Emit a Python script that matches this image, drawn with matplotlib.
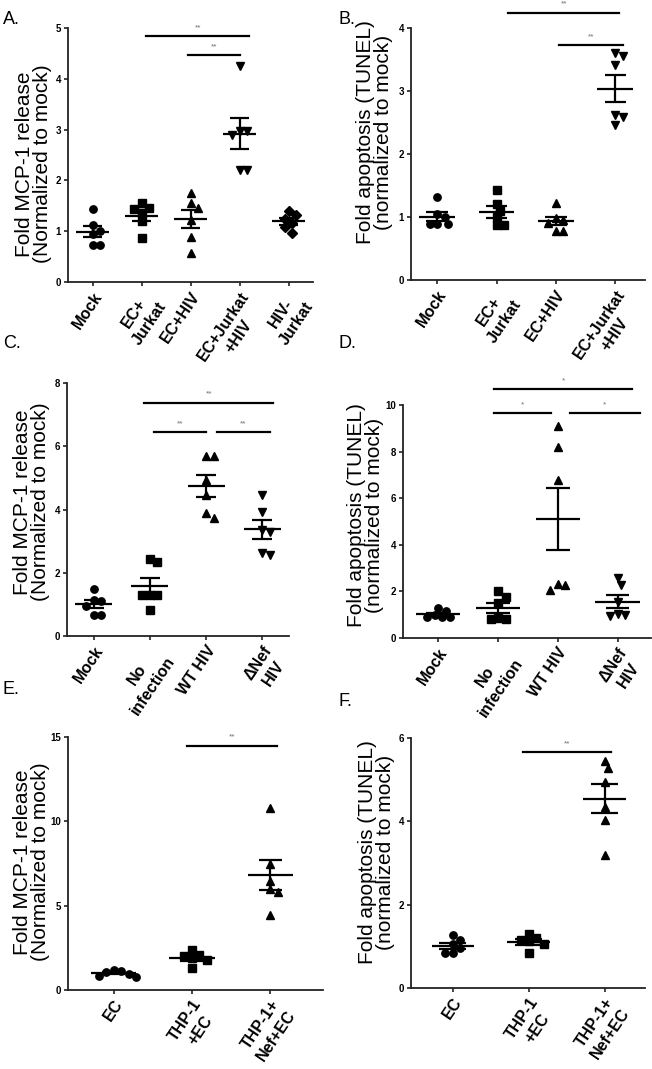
import numpy as np
import matplotlib
matplotlib.use("Agg")
import matplotlib.pyplot as plt

plt.rcParams['font.family'] = ['Liberation Sans', 'DejaVu Sans']

# ---------------- data ----------------
A_cats = ["Mock", "EC+\nJurkat", "EC+HIV", "EC+Jurkat\n+HIV", "HIV-\nJurkat"]
A_mock = [1.43, 1.12, 1.00, 0.95, 0.72, 0.72]
A_ecj = [1.55, 1.45, 1.43, 1.35, 1.20, 0.87]
A_echiv = [1.76, 1.55, 1.45, 1.22, 0.89, 0.58]
A_ecjhiv = [4.26, 2.97, 2.97, 2.90, 2.20, 2.20]
A_hivj = [1.39, 1.32, 1.25, 1.16, 1.08, 0.97]

B_cats = ["Mock", "EC+\nJurkat", "EC+HIV", "EC+Jurkat\n+HIV"]
B_mock = [1.31, 1.05, 1.00, 0.89, 0.89, 0.89]
B_ecj = [1.43, 1.21, 1.10, 1.00, 0.87, 0.87]
B_echiv = [1.23, 0.98, 0.95, 0.90, 0.78, 0.78]
B_ecjhiv = [3.60, 3.55, 3.42, 2.62, 2.58, 2.46]

C_cats = ["Mock", "No\ninfection", "WT HIV", "ΔNef\nHIV"]
C_mock = [1.50, 1.14, 1.12, 0.95, 0.66, 0.66]
C_noinf = [2.42, 2.35, 1.30, 1.30, 1.30, 0.82]
C_wt = [5.70, 5.70, 4.93, 4.45, 3.90, 3.74]
C_dnef = [4.45, 3.93, 3.35, 3.30, 2.63, 2.56]

D_cats = ["Mock", "No\ninfection", "WT HIV", "ΔNef\nHIV"]
D_mock = [1.28, 1.15, 1.00, 0.90, 0.88, 0.88]
D_noinf = [2.00, 1.76, 1.50, 0.85, 0.80, 0.80]
D_wt = [9.11, 8.20, 6.76, 2.31, 2.26, 2.07]
D_dnef = [2.57, 2.27, 1.55, 1.05, 1.00, 0.95]

E_cats = ["EC", "THP-1\n+EC", "THP-1+\nNef+EC"]
E_ec = [1.20, 1.10, 1.05, 0.95, 0.85, 0.80]
E_thp = [2.35, 2.05, 2.00, 1.90, 1.75, 1.30]
E_thpnef = [10.80, 7.46, 6.45, 6.00, 5.82, 4.44]

F_cats = ["EC", "THP-1\n+EC", "THP-1+\nNef+EC"]
F_ec = [1.27, 1.15, 1.05, 0.95, 0.84, 0.84]
F_thp = [1.30, 1.20, 1.15, 1.12, 1.05, 0.83]
F_thpnef = [5.44, 5.28, 4.95, 4.34, 4.03, 3.19]

ylab_mcp = "Fold MCP-1 release\n(Normalized to mock)"
ylab_tun = "Fold apoptosis (TUNEL)\n(normalized to mock)"

W, H = 652, 1069


# ---------------- helpers ----------------
def swarm(vals, px_x, px_y, diam=7.5):
    """Deterministic beeswarm: offsets (in category units) so markers don't overlap."""
    v = np.asarray(vals, float)
    order = np.argsort(-v)
    offs = np.zeros(len(v))
    placed = []
    step = diam * 0.5
    cands = [0.0]
    for j in range(1, 12):
        cands += [j * step, -j * step]
    for k in order:
        yk = v[k] * px_y
        for c in cands:
            ok = True
            for (xp, yp) in placed:
                if (c - xp) ** 2 + (yk - yp) ** 2 < diam ** 2 * 0.95:
                    ok = False
                    break
            if ok:
                placed.append((c, yk))
                offs[k] = c / px_x
                break
    return offs


def panel(box, letter, letter_xy, cats, groups, markers, ylim, yticks, xlim,
          ylabel, lab_xy, sigs, widths, sig_star_size=6):
    x0, x1, ytop, ybot = box
    rect = [x0 / W, 1 - ybot / H, (x1 - x0) / W, (ybot - ytop) / H]
    ax = fig.add_axes(rect)
    px_x = (x1 - x0) / (xlim[1] - xlim[0])
    px_y = (ybot - ytop) / (ylim[1] - ylim[0])
    mw, cw = widths
    yr = ylim[1] - ylim[0]
    for i, (v, m) in enumerate(zip(groups, markers)):
        offs = swarm(v, px_x, px_y)
        ms = 4.6 if m == 'D' else 5.3
        ax.plot(i + offs, v, ls='none', marker=m, color='black', ms=ms, zorder=3)
        mean = np.mean(v)
        sem = np.std(v, ddof=1) / np.sqrt(len(v))
        ax.hlines(mean, i - mw, i + mw, color='black', lw=1.6, zorder=4)
        ax.hlines([mean - sem, mean + sem], i - cw, i + cw, color='black', lw=1.6, zorder=4)
        ax.vlines(i, mean - sem, mean + sem, color='black', lw=1.6, zorder=4)
    ax.set_xlim(*xlim)
    ax.set_ylim(*ylim)
    ax.set_yticks(yticks)
    ax.set_yticklabels([str(t) for t in yticks], fontsize=7, fontweight='bold')
    ax.set_xticks(range(len(cats)))
    ax.set_xticklabels(cats, fontsize=11.5, fontweight='bold')
    for t in ax.get_xticklabels():
        t.set_rotation(56)
        t.set_ha('right')
        t.set_rotation_mode('anchor')
        t.set_multialignment('center')
        t.set_linespacing(1.3)
    for s in ['top', 'right']:
        ax.spines[s].set_visible(False)
    for s in ['left', 'bottom']:
        ax.spines[s].set_linewidth(1.3)
        ax.spines[s].set_color('#222222')
    ax.tick_params(width=1.2, length=3, color='#222222', pad=2)
    ax.set_ylabel(ylabel, fontsize=15, linespacing=0.95)
    ax.yaxis.set_label_coords(*lab_xy)
    for xa, xb, y, txt in sigs:
        ax.plot([xa, xb], [y, y], color='black', lw=1.6, clip_on=False)
        ax.text((xa + xb) / 2, y + 0.02 * yr, txt, ha='center', va='bottom',
                fontsize=sig_star_size, color='#707070', clip_on=False)
    fig.text(letter_xy[0] / W, 1 - letter_xy[1] / H, letter, fontsize=13,
             ha='left', va='center')
    return ax


fig = plt.figure(figsize=(W / 100, H / 100), dpi=100)

panel((68, 313, 28, 282), "A.", (3, 19), A_cats,
      [A_mock, A_ecj, A_echiv, A_ecjhiv, A_hivj], ['o', 's', '^', 'v', 'D'],
      (0, 5), [0, 1, 2, 3, 4, 5], (-0.5, 4.5), ylab_mcp, (-0.065, 0.465),
      [(1.1, 3.2, 4.84, "**"), (1.95, 3.02, 4.46, "**")], (0.33, 0.19))

panel((411, 645, 28, 280), "B.", (338, 19), B_cats,
      [B_mock, B_ecj, B_echiv, B_ecjhiv], ['o', 's', '^', 'v'],
      (0, 4), [0, 1, 2, 3, 4], (-0.44, 3.5), ylab_tun, (-0.077, 0.587),
      [(1.2, 3.07, 4.24, "**"), (2.06, 3.13, 3.73, "**")], (0.3, 0.18))

panel((67, 289, 383, 636), "C.", (3, 343), C_cats,
      [C_mock, C_noinf, C_wt, C_dnef], ['o', 's', '^', 'v'],
      (0, 8), [0, 2, 4, 6, 8], (-0.48, 3.48), ylab_mcp, (-0.077, 0.53),
      [(0.9, 3.2, 7.38, "**"), (1.07, 2.0, 6.45, "**"), (2.2, 3.14, 6.45, "**")],
      (0.33, 0.18))

panel((403, 651, 405, 638), "D.", (338, 343), D_cats,
      [D_mock, D_noinf, D_wt, D_dnef], ['o', 's', '^', 'v'],
      (0, 10), [0, 2, 4, 6, 8, 10], (-0.59, 3.56), ylab_tun, (-0.075, 0.528),
      [(0.94, 3.25, 10.69, "*"), (0.94, 1.89, 9.64, "*"), (2.21, 3.37, 9.64, "*")],
      (0.37, 0.2))

panel((68, 323, 737, 990), "E.", (2, 689), E_cats,
      [E_ec, E_thp, E_thpnef], ['o', 's', '^'],
      (0, 15), [0, 5, 10, 15], (-0.58, 2.67), ylab_mcp, (-0.07, 0.506),
      [(0.94, 2.08, 14.47, "**")], (0.29, 0.15))

panel((411, 645, 738, 988), "F.", (338, 701), F_cats,
      [F_ec, F_thp, F_thpnef], ['o', 's', '^'],
      (0, 6), [0, 2, 4, 6], (-0.55, 2.53), ylab_tun, (-0.068, 0.544),
      [(0.93, 2.08, 5.66, "**")], (0.28, 0.18))

fig.savefig("out.png", dpi=100)
